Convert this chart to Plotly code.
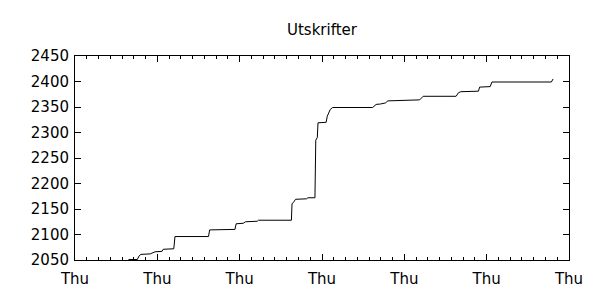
import pandas as pd
import plotly.graph_objects as go

start = pd.Timestamp("2009-01-01")
end = pd.Timestamp("2009-02-12")

# Time (days since start) and cumulative count
days = [4.55, 5.3, 5.45, 5.6, 6.4, 6.8, 7.4, 7.5, 8.4, 8.5, 11.35, 11.45, 13.6, 13.7,
        14.3, 14.5, 15.5, 15.6, 18.4, 18.45, 18.6, 18.75, 19.7, 19.8, 20.4, 20.47,
        20.6, 20.66, 21.35, 21.45, 21.7, 21.9, 25.3, 25.6, 26.0, 26.4, 26.6, 29.3,
        29.6, 32.4, 32.6, 32.8, 34.3, 34.4, 35.3, 35.45, 40.5, 40.65]
values = [2051, 2051, 2058, 2061, 2062, 2066, 2067, 2071, 2072, 2096, 2096, 2109, 2110, 2121,
          2122, 2125, 2126, 2128, 2128, 2160, 2164, 2169, 2170, 2172, 2172, 2285,
          2290, 2319, 2320, 2332, 2345, 2349, 2349, 2355, 2356, 2358, 2362, 2364,
          2371, 2371, 2378, 2380, 2381, 2389, 2390, 2399, 2399, 2405]

times = [start + pd.Timedelta(days=d) for d in days]

fig = go.Figure()
fig.add_trace(go.Scatter(x=times, y=values, mode="lines",
                         line=dict(color="black", width=1), showlegend=False))

font = dict(family="DejaVu Sans", size=15, color="black")
fig.update_layout(
    width=600, height=300,
    margin=dict(l=75, r=31, t=56, b=38),
    paper_bgcolor="white", plot_bgcolor="white",
    title=dict(text="Utskrifter", x=322/600, xanchor="center", y=1-30/300, yanchor="middle",
               font=dict(family="DejaVu Sans", size=15, color="black")),
    font=font,
)
fig.update_xaxes(
    type="date", range=[start, end],
    tick0=start, dtick=7*86400000, tickformat="%a",
    ticks="inside", ticklen=6, tickcolor="black", tickwidth=1,
    minor=dict(dtick=86400000, ticks="inside", ticklen=3, tickcolor="black", showgrid=False),
    showline=True, linecolor="black", linewidth=1, mirror="ticks",
    showgrid=False, zeroline=False, tickfont=font, ticklabelstandoff=5,
)
fig.update_yaxes(
    range=[2050, 2450], tick0=2050, dtick=50,
    ticks="inside", ticklen=6, tickcolor="black", tickwidth=1,
    showline=True, linecolor="black", linewidth=1, mirror="ticks",
    showgrid=False, zeroline=False, tickfont=font, ticklabelstandoff=2,
)
fig.write_html("out.html")
